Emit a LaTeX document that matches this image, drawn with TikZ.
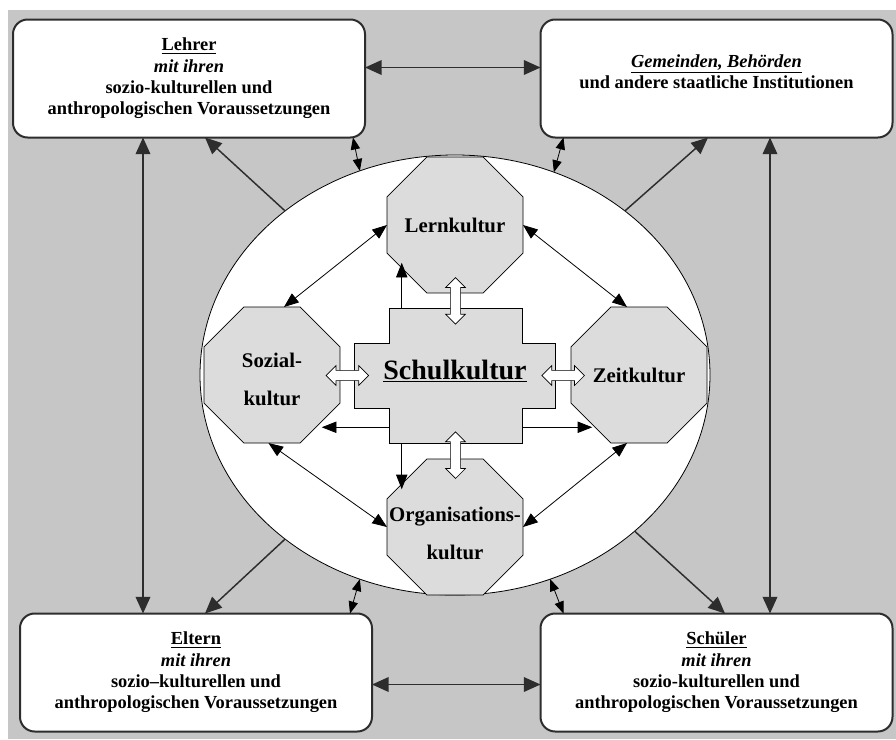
\documentclass[tikz,border=0pt]{standalone}
\usepackage{fontspec}
\setmainfont{Liberation Serif}
\usetikzlibrary{shapes.geometric,shapes.arrows,calc,arrows.meta}

\definecolor{bggray}{RGB}{198,198,198}
\definecolor{octfill}{RGB}{220,220,220}
\definecolor{boxline}{RGB}{45,45,45}

\newcommand{\bxfont}{\fontsize{13.8}{16}\selectfont\bfseries}
\newcommand{\octfont}{\fontsize{15.6}{28.5}\selectfont\bfseries}

\tikzset{
  box/.style={draw=boxline, line width=1.5pt, fill=white, rounded corners=11pt,
    minimum width=264pt, minimum height=88.5pt, inner sep=0pt, outer sep=0pt,
    align=center, font=\bxfont},
  boxtext/.style={align=center, font=\bxfont, inner sep=0pt},
  ell/.style={ellipse, draw, fill=white, line width=0.6pt, minimum width=382.5pt,
    minimum height=330pt, inner sep=0pt, outer sep=0pt},
  octa/.style={regular polygon, regular polygon sides=8, draw, fill=octfill,
    line width=0.6pt, minimum size=110.4pt, inner sep=0pt, outer sep=0pt},
  octtext/.style={align=center, font=\octfont, inner sep=0pt},
  crossbox/.style={draw, fill=octfill, line width=0.6pt},
  hollow/.style={double arrow, draw, fill=white, line width=0.5pt, inner sep=3.6pt,
    double arrow head extend=3.6pt},
  outer/.style={draw=boxline, line width=1.1pt, >={Triangle[length=12.5pt,width=11pt]}},
  inner/.style={line width=0.6pt, >={Triangle[length=11pt,width=8.5pt]}},
  short/.style={line width=0.6pt, >={Triangle[length=9pt,width=7pt]}}
}

\begin{document}
\begin{tikzpicture}[x=0.75pt,y=0.75pt,yscale=-1]
\useasboundingbox (0,0) rectangle (896,739);
%Background
\fill[bggray] (8,10) rectangle (896,739);

%Rounded Rect
\node[box] (lehrer) at (189,78.5) {\underline{Lehrer}\\\textit{mit ihren}\\sozio-kulturellen und\\anthropologischen Voraussetzungen};
%Rounded Rect
\node[box] (gem) at (716.5,78.5) {};
\node[boxtext] (gemtxt) at (716.5,72) {\underline{\textit{Gemeinden, Behörden}}\\und andere staatliche Institutionen};
%Rounded Rect
\node[box] (eltern) at (196,672.5) {\underline{Eltern}\\\textit{mit ihren}\\sozio--kulturellen und\\anthropologischen Voraussetzungen};
%Rounded Rect
\node[box] (schueler) at (716.5,672.5) {\underline{Schüler}\\\textit{mit ihren}\\sozio-kulturellen und\\anthropologischen Voraussetzungen};

%Ellipse
\node[ell] (ell) at (455,375) {};

%Octagons
\node[octa] (lern) at (455,225) {};
\node[octa] (soz) at (272,375) {};
\node[octa] (zeit) at (639,375) {};
\node[octa] (org) at (455,527) {};
\node[octtext] (lerntxt) at (lern) {Lernkultur};
\node[octtext] (soztxt) at ($(soz)+(0,4)$) {Sozial-\\kultur};
\node[octtext] (zeittxt) at (zeit) {Zeitkultur};
\node[octtext] (orgtxt) at ($(org)+(0,6)$) {Organisations-\\kultur};

%Cross
\node[inner sep=0pt, minimum width=99pt, minimum height=100.5pt] (schulv) at (456,376) {};
\node[inner sep=0pt, minimum width=150pt, minimum height=48pt] (schulh) at (455,376) {};
\draw[crossbox] (schulv.north west) -- (schulv.north east) -- (schulv.north east |- schulh.north)
  -- (schulh.north east) -- (schulh.south east) -- (schulv.south east |- schulh.south)
  -- (schulv.south east) -- (schulv.south west) -- (schulv.south west |- schulh.south)
  -- (schulh.south west) -- (schulh.north west) -- (schulv.north west |- schulh.north) -- cycle;
\node[inner sep=0pt, font=\fontsize{21}{24}\selectfont\bfseries] (schul) at (455,371) {\underline{Schulkultur}};

%Straight Lines between boxes
\draw[outer,<->] ($(lehrer.east)+(0,-11)$) -- ($(gem.west)+(0,-11)$);
\draw[outer,<->] ($(eltern.east)+(0,12)$) -- ($(schueler.west)+(0,12)$);
\coordinate (lv) at ($(lehrer.south)+(-46,0)$);
\draw[outer,<->] (lv) -- (lv |- eltern.north);
\coordinate (gv) at ($(gem.south)+(53.5,0)$);
\draw[outer,<->] (gv) -- (gv |- schueler.north);

%Straight Lines from ellipse
\draw[outer,->] (ell.136) -- ($(lehrer.south)+(16,0)$);
\draw[outer,->] (ell.44) -- ($(gem.south)+(-8.5,0)$);
\draw[outer,->] (ell.224) -- ($(eltern.north)+(9,0)$);
\draw[outer,->] (ell.-41) -- ($(schueler.north)+(8.5,0)$);
\draw[short,<->] (ell.115) -- ($(lehrer.south east)+(-12,0)$);
\draw[short,<->] (ell.64) -- ($(gem.south west)+(23,0)$);
\draw[short,<->] (ell.245) -- ($(eltern.north east)+(-22,0)$);
\draw[short,<->] (ell.-65) -- ($(schueler.north west)+(23,0)$);

%Straight Lines inside
\draw[inner,<->] (lern.180) -- (soz.80);
\draw[inner,<->] (lern.0) -- (zeit.100);
\draw[inner,<->] (soz.-93) -- (org.180);
\draw[inner,<->] (zeit.-100) -- (org.0);
\draw[inner,->] ($(schulv.north west)+(12,0)$) -- ++(0,-46);
\draw[inner,->] ($(schulv.south west)+(12,0)$) -- ++(0,46);
\draw[inner,->] ($(schulv.south west)+(0,-16)$) -- ++(-68,0);
\draw[inner,->] ($(schulv.south east)+(0,-16)$) -- ++(70,0);

%Hollow arrows
\node[hollow, shape border rotate=90, minimum height=35pt] (hlern) at ($(lern.south)!0.5!(schulv.north)$) {};
\node[hollow, shape border rotate=90, minimum height=35pt] (horg) at ($(org.north)!0.5!(schulv.south)+(0,4)$) {};
\node[hollow, minimum height=32pt] (hsoz) at ($(soz.east)!0.5!(schulh.west)$) {};
\node[hollow, minimum height=32pt] (hzeit) at ($(zeit.west)!0.5!(schulh.east)$) {};

\end{tikzpicture}
\end{document}
